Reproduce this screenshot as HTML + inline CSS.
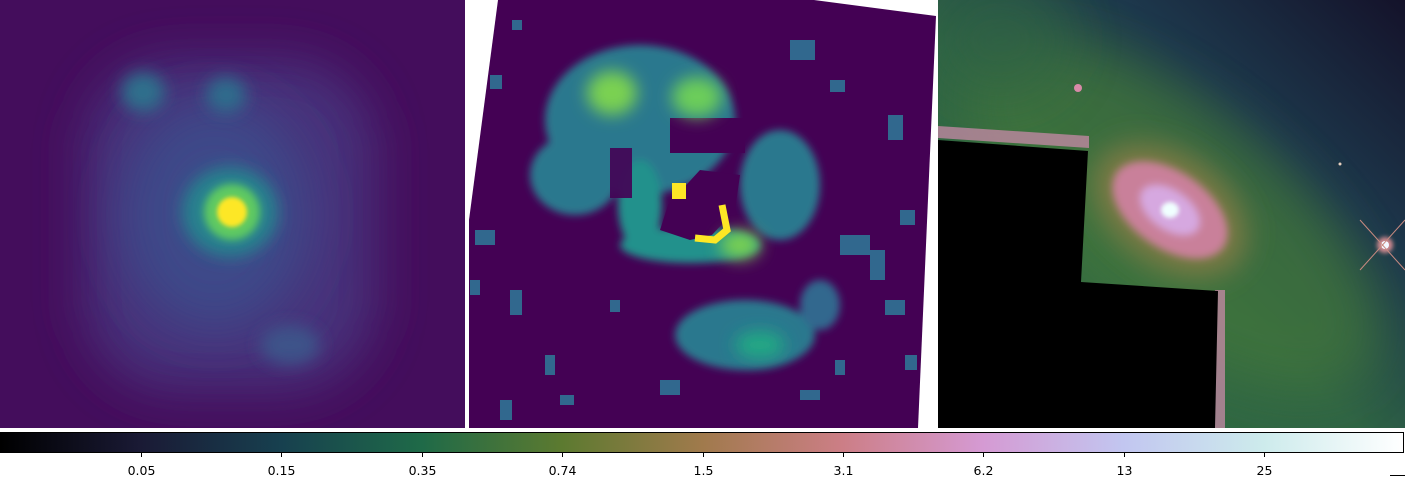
<!DOCTYPE html>
<html><head><meta charset="utf-8"><style>
html,body{margin:0;padding:0;background:#fff;width:1405px;height:477px;overflow:hidden}
svg{display:block}
text{font-family:"DejaVu Sans","Liberation Sans",sans-serif;font-size:12.5px;fill:#000}
</style></head><body>
<svg width="1405" height="477" viewBox="0 0 1405 477">
<defs>
 <filter id="b8" x="-50%" y="-50%" width="200%" height="200%"><feGaussianBlur stdDeviation="8"/></filter>
 <filter id="b14" x="-50%" y="-50%" width="200%" height="200%"><feGaussianBlur stdDeviation="14"/></filter>
 <filter id="b25" x="-50%" y="-50%" width="200%" height="200%"><feGaussianBlur stdDeviation="25"/></filter>
 <filter id="b4" x="-50%" y="-50%" width="200%" height="200%"><feGaussianBlur stdDeviation="4"/></filter>
 <filter id="b2" x="-50%" y="-50%" width="200%" height="200%"><feGaussianBlur stdDeviation="2"/></filter>
 <clipPath id="c1"><rect x="0" y="0" width="465" height="428"/></clipPath>
 <clipPath id="c2"><polygon points="498,0 814,0 936,16 918,428 469,428 469,220"/></clipPath>
 <clipPath id="c3"><rect x="938" y="0" width="467" height="428"/></clipPath>
 <linearGradient id="bg3" x1="1" y1="0" x2="0" y2="1">
  <stop offset="0" stop-color="#14122a"/><stop offset="0.3" stop-color="#1d384c"/>
  <stop offset="0.55" stop-color="#2f6444"/><stop offset="1" stop-color="#33703f"/>
 </linearGradient>
 <linearGradient id="cbar" x1="0" y1="0" x2="1" y2="0">
  <stop offset="0" stop-color="#000000"/><stop offset="0.1" stop-color="#1a1a35"/>
  <stop offset="0.2" stop-color="#17404f"/><stop offset="0.3" stop-color="#1f6a48"/>
  <stop offset="0.4" stop-color="#5c7a30"/><stop offset="0.5" stop-color="#a07a4c"/>
  <stop offset="0.6" stop-color="#cc7e86"/><stop offset="0.7" stop-color="#d59ad3"/>
  <stop offset="0.8" stop-color="#c2c6f0"/><stop offset="0.9" stop-color="#cdebec"/>
  <stop offset="1" stop-color="#ffffff"/>
 </linearGradient>
</defs>

<!-- Panel 1 -->
<g clip-path="url(#c1)">
 <rect x="0" y="0" width="465" height="428" fill="#440d5c"/>
 <rect x="85" y="60" width="290" height="330" rx="90" fill="#46327a" filter="url(#b25)"/>
 <ellipse cx="215" cy="215" rx="95" ry="115" fill="#3e4a89" filter="url(#b25)"/>
 <ellipse cx="143" cy="92" rx="22" ry="20" fill="#2f6f8c" filter="url(#b8)"/>
 <ellipse cx="226" cy="95" rx="20" ry="18" fill="#2f6c8c" filter="url(#b8)"/>
 <ellipse cx="290" cy="345" rx="30" ry="20" fill="#3e5389" filter="url(#b8)"/>
 <ellipse cx="230" cy="212" rx="48" ry="45" fill="#26828e" filter="url(#b8)"/>
 <ellipse cx="232" cy="212" rx="28" ry="28" fill="#5ec962" filter="url(#b4)"/>
 <ellipse cx="232" cy="212" rx="15" ry="15" fill="#fde725" filter="url(#b2)"/>
</g>

<!-- Panel 2 -->
<g clip-path="url(#c2)">
 <rect x="465" y="0" width="475" height="430" fill="#440154"/>
 <g filter="url(#b4)">
  <ellipse cx="640" cy="120" rx="95" ry="75" fill="#2a788e"/>
  <ellipse cx="575" cy="175" rx="45" ry="40" fill="#2a788e"/>
  <ellipse cx="780" cy="185" rx="40" ry="55" fill="#2a788e"/>
  <ellipse cx="745" cy="335" rx="70" ry="35" fill="#2a788e"/>
  <ellipse cx="820" cy="305" rx="20" ry="25" fill="#31688e"/>
  <ellipse cx="690" cy="245" rx="70" ry="18" fill="#21918c"/>
  <ellipse cx="640" cy="205" rx="22" ry="45" fill="#21918c"/>
 </g>
 <rect x="670" y="118" width="75" height="35" fill="#440154"/>
 <polygon points="668,205 700,170 740,175 735,210 712,235 690,240 660,230" fill="#440154"/>
 <rect x="610" y="148" width="22" height="50" fill="#440154" opacity="0.9"/>
 <g filter="url(#b8)">
  <ellipse cx="612" cy="93" rx="25" ry="22" fill="#7ad151"/>
  <ellipse cx="697" cy="97" rx="25" ry="20" fill="#6ccd5a"/>
  <ellipse cx="760" cy="345" rx="25" ry="14" fill="#22a884"/>
  <ellipse cx="740" cy="245" rx="20" ry="14" fill="#7ad151"/>
 </g>
 <path d="M722,205 L727,230 L715,240 L695,238" stroke="#fde725" stroke-width="7" fill="none"/>
 <rect x="672" y="183" width="14" height="16" fill="#fde725"/>
 <g fill="#31688e">
  <rect x="512" y="20" width="10" height="10"/><rect x="490" y="75" width="12" height="14"/>
  <rect x="475" y="230" width="20" height="15"/><rect x="510" y="290" width="12" height="25"/>
  <rect x="545" y="355" width="10" height="20"/><rect x="560" y="395" width="14" height="10"/>
  <rect x="660" y="380" width="20" height="15"/><rect x="610" y="300" width="10" height="12"/>
  <rect x="790" y="40" width="25" height="20"/><rect x="830" y="80" width="15" height="12"/>
  <rect x="888" y="115" width="15" height="25"/><rect x="870" y="250" width="15" height="30"/>
  <rect x="900" y="210" width="15" height="15"/><rect x="840" y="235" width="30" height="20"/>
  <rect x="885" y="300" width="20" height="15"/><rect x="500" y="400" width="12" height="20"/>
  <rect x="800" y="390" width="20" height="10"/><rect x="470" y="280" width="10" height="15"/>
  <rect x="835" y="360" width="10" height="15"/><rect x="905" y="355" width="12" height="15"/>
 </g>
</g>

<!-- Panel 3 -->
<g clip-path="url(#c3)">
 <rect x="938" y="0" width="467" height="428" fill="url(#bg3)"/>
 <ellipse cx="1170" cy="215" rx="250" ry="110" transform="rotate(38 1170 215)" fill="#43773a" filter="url(#b25)" opacity="0.7"/>
 <ellipse cx="1000" cy="40" rx="70" ry="60" fill="#2d6244" filter="url(#b25)" opacity="0.6"/>
 <ellipse cx="1170" cy="210" rx="85" ry="55" transform="rotate(35 1170 210)" fill="#7e7a44" filter="url(#b14)"/>
 <ellipse cx="1170" cy="210" rx="65" ry="38" transform="rotate(35 1170 210)" fill="#c9809a" filter="url(#b4)"/>
 <ellipse cx="1170" cy="210" rx="34" ry="20" transform="rotate(35 1170 210)" fill="#d6a8e0" filter="url(#b4)"/>
 <ellipse cx="1170" cy="210" rx="9" ry="8" fill="#f0ffff" filter="url(#b2)"/>
 <circle cx="1078" cy="88" r="4" fill="#d88aa8"/>
 <circle cx="1340" cy="164" r="1.5" fill="#e8d0c0"/>
 <g>
  <circle cx="1385" cy="245" r="8" fill="#d08a90" filter="url(#b2)"/>
  <circle cx="1385" cy="245" r="4" fill="#f4f8ff"/>
  <path d="M1360,220 L1405,270 M1360,270 L1405,220" stroke="#c88a80" stroke-width="1"/>
 </g>
 <polygon points="938,126 1089,136 1089,148 938,138" fill="#c88aa8" opacity="0.75"/>
 <polygon points="1215,290 1225,290 1225,428 1215,428" fill="#c88aa8" opacity="0.75"/>
 <polygon points="938,140 1088,151 1081,282 1218,291 1215,428 938,428" fill="#000"/>
</g>

<!-- Colorbar -->
<g>
 <rect x="0.5" y="432.5" width="1403" height="20" fill="url(#cbar)" stroke="#000" stroke-width="1"/>
 <g id="ticks"></g>
 <line x1="1390" y1="475.5" x2="1405" y2="475.5" stroke="#000" stroke-width="1"/>
</g>
</svg>
<script>
const tickLabels = ["0.05","0.15","0.35","0.74","1.5","3.1","6.2","13","25"];
const tickFractions = [0.1,0.2,0.3,0.4,0.5,0.6,0.7,0.8,0.9];
const cbX0 = 0.5, cbW = 1404;
function xScale(f){ return cbX0 + f*cbW; }
const g = document.getElementById('ticks');
const NS = 'http://www.w3.org/2000/svg';
tickLabels.forEach(function(lab,i){
  const x = Math.round(xScale(tickFractions[i])) + 0.5;
  const l = document.createElementNS(NS,'line');
  l.setAttribute('x1',x); l.setAttribute('x2',x);
  l.setAttribute('y1',453); l.setAttribute('y2',457);
  l.setAttribute('stroke','#000');
  
  
  g.appendChild(l);
  const t = document.createElementNS(NS,'text');
  t.setAttribute('x',x); t.setAttribute('y',475);
  t.setAttribute('text-anchor','middle');
  t.textContent = lab;
  
  
  g.appendChild(t);
});
</script>
</body></html>
